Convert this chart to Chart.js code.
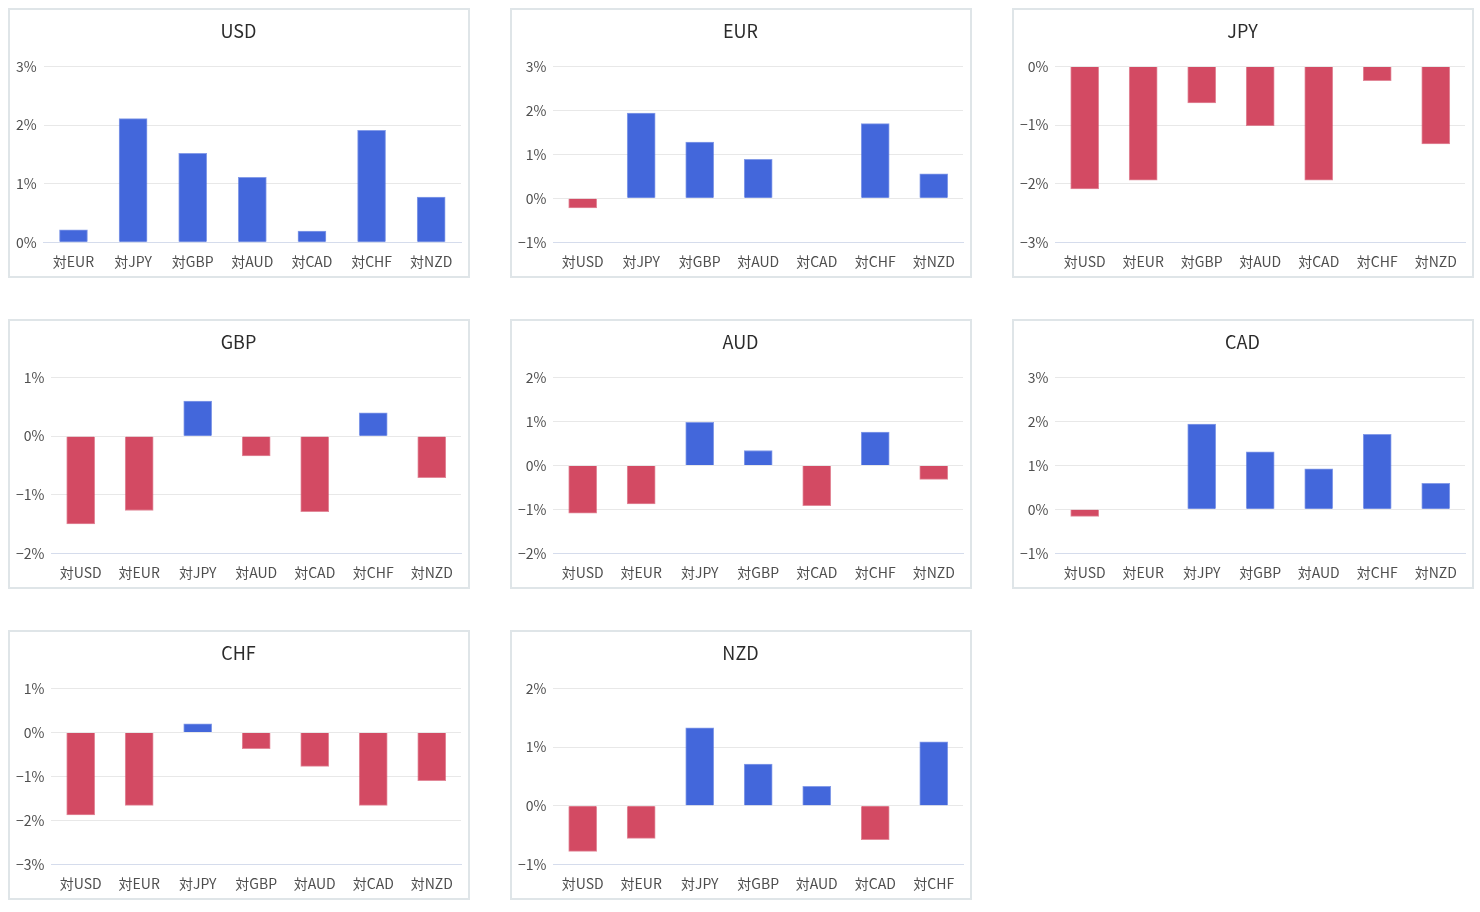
<!DOCTYPE html>
<html>
<head>
<meta charset="utf-8">
<script src="https://cdn.jsdelivr.net/npm/chart.js@4.4.1/dist/chart.umd.min.js"></script>
<style>
  html, body { margin: 0; padding: 0; background: #ffffff; }
  body { width: 1480px; height: 912px; position: relative; overflow: hidden; }
  .panel { position: absolute; width: 462px; height: 270px; box-sizing: border-box; border: 2px solid #dfe5e8; background: #fff; }
  .panel canvas { display: block; }
</style>
</head>
<body>
<script>
// ---- data ----
const currencies = ['USD', 'EUR', 'JPY', 'GBP', 'AUD', 'CAD', 'CHF', 'NZD'];
const usd = [0.21, 2.11, 1.52, 1.11, 0.19, 1.91, 0.77];
const eur = [-0.22, 1.94, 1.28, 0.89, 0.00, 1.70, 0.56];
const jpy = [-2.09, -1.94, -0.62, -1.01, -1.94, -0.24, -1.32];
const gbp = [-1.50, -1.27, 0.60, -0.34, -1.29, 0.40, -0.71];
const aud = [-1.09, -0.88, 0.98, 0.34, -0.92, 0.76, -0.32];
const cad = [-0.16, 0.00, 1.94, 1.31, 0.92, 1.71, 0.59];
const chf = [-1.88, -1.66, 0.20, -0.37, -0.77, -1.66, -1.10];
const nzd = [-0.78, -0.56, 1.33, 0.71, 0.33, -0.58, 1.09];
const seriesList = [usd, eur, jpy, gbp, aud, cad, chf, nzd];
const axisMin = [0, -1, -3, -2, -2, -1, -3, -1];
const axisMax = [3, 3, 0, 1, 2, 3, 1, 2];

// ---- styles ----
const FONT = '"Noto Sans CJK JP", "Noto Sans", sans-serif';
const BLUE = 'rgb(67,103,219)';
const RED = 'rgb(211,74,99)';
const BLUE_EDGE = 'rgba(67,103,219,0.65)';
const RED_EDGE = 'rgba(211,74,99,0.65)';
const panelTops = [8, 319, 630];
const Y_PAD = 7, X_PAD = 11;

function fmt(v) {
  return (v < 0 ? '\u2212' + Math.abs(v) : String(v)) + '%';
}

currencies.forEach((cur, i) => {
  const col = i % 3, row = Math.floor(i / 3);
  const div = document.createElement('div');
  div.className = 'panel';
  div.style.left = (8 + col * 502) + 'px';
  div.style.top = panelTops[row] + 'px';
  const cv = document.createElement('canvas');
  cv.width = 458; cv.height = 266;
  cv.style.width = '458px'; cv.style.height = '266px';
  div.appendChild(cv);
  document.body.appendChild(div);

  const labels = currencies.filter(c => c !== cur).map(c => '対' + c);
  const values = seriesList[i];

  new Chart(cv.getContext('2d'), {
    type: 'bar',
    data: {
      labels: labels,
      datasets: [{
        data: values,
        backgroundColor: ctx => (ctx.raw < 0 ? RED : BLUE),
        borderColor: ctx => (ctx.raw < 0 ? RED_EDGE : BLUE_EDGE),
        borderWidth: 1,
        borderSkipped: 'start',
        barThickness: 28
      }]
    },
    options: {
      responsive: false,
      devicePixelRatio: 1,
      animation: false,
      layout: { padding: { top: 10, bottom: 6, left: 6, right: 7 } },
      plugins: {
        legend: { display: false },
        tooltip: { enabled: false },
        title: {
          display: true,
          text: cur,
          color: '#2b2b2b',
          font: { family: FONT, size: 18, weight: 'normal' },
          padding: { top: 0, bottom: 25 }
        }
      },
      scales: {
        x: {
          grid: { display: false, drawTicks: false, tickLength: 0 },
          border: { display: true, color: '#d5dcec', width: 1 },
          ticks: { color: '#4f4f4f', font: { family: FONT, size: 14 }, padding: X_PAD, maxRotation: 0, autoSkip: false },
          afterFit: s => { s.height = X_PAD + 16.8; }
        },
        y: {
          min: axisMin[i],
          max: axisMax[i],
          grid: { color: '#e8e8e8', lineWidth: 1, drawTicks: false, tickLength: 0 },
          border: { display: false },
          ticks: { stepSize: 1, color: '#4f4f4f', font: { family: FONT, size: 14 }, padding: Y_PAD, callback: v => fmt(v) },
          afterFit: s => {
            const ls = s._labelSizes;
            if (ls && ls.widest) s.width = ls.widest.width + Y_PAD;
          }
        }
      }
    }
  });
});
</script>
</body>
</html>
